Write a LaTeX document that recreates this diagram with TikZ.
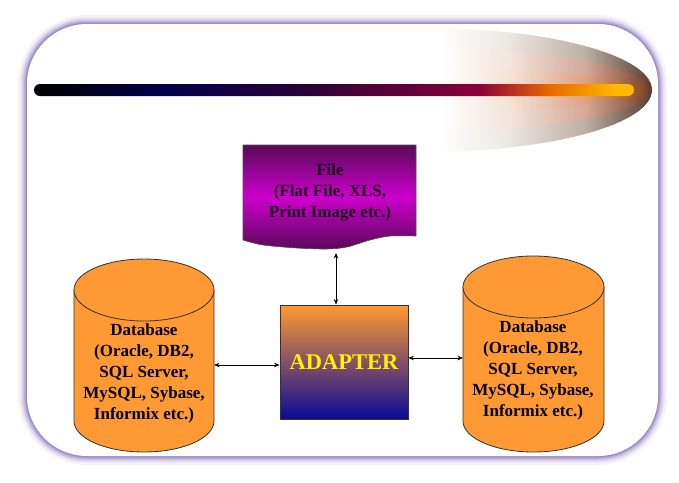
\documentclass[tikz,border=0pt]{standalone}
\usepackage{fontspec}
\setmainfont{Liberation Serif}
\usetikzlibrary{arrows.meta}
\definecolor{framecol}{HTML}{9A86C4}
\definecolor{dborange}{HTML}{FF9933}
\definecolor{adtop}{HTML}{FF9933}
\definecolor{adbot}{HTML}{0A0A96}
\definecolor{filedark}{HTML}{5A0A5A}
\definecolor{filebright}{HTML}{CC00CC}
\definecolor{filetext}{HTML}{1E001E}
\definecolor{barA}{HTML}{000000}
\definecolor{barB}{HTML}{00004A}
\definecolor{barC}{HTML}{2A0038}
\definecolor{barD}{HTML}{8B0038}
\definecolor{barE}{HTML}{E86A00}
\definecolor{barF}{HTML}{FFB800}
\definecolor{cAlight}{HTML}{EEEAE6}
\definecolor{cAmid}{HTML}{BEB0A6}
\definecolor{cAend}{HTML}{5A3E2E}
\definecolor{cBlight}{HTML}{F2E4DE}
\definecolor{cBmid}{HTML}{D4A898}
\definecolor{cBend}{HTML}{7A4228}
\definecolor{cClight}{HTML}{F4E0D4}
\definecolor{cCmid}{HTML}{DDA080}
\definecolor{cCend}{HTML}{8B4A1E}
\pgfdeclarehorizontalshading{barshade}{100bp}{color(0bp)=(barA); color(25bp)=(barA); color(35.5bp)=(barB); color(47.5bp)=(barC); color(62bp)=(barD); color(68bp)=(barE); color(73.5bp)=(barF); color(100bp)=(barF)}
\pgfdeclarehorizontalshading{cometA}{100bp}{color(0bp)=(white); color(27bp)=(white); color(42bp)=(cAlight); color(60bp)=(cAmid); color(75bp)=(cAend); color(100bp)=(cAend)}
\pgfdeclarehorizontalshading{cometB}{100bp}{color(0bp)=(white); color(28bp)=(white); color(44bp)=(cBlight); color(61bp)=(cBmid); color(75bp)=(cBend); color(100bp)=(cBend)}
\pgfdeclarehorizontalshading{cometC}{100bp}{color(0bp)=(white); color(29bp)=(white); color(45bp)=(cClight); color(62bp)=(cCmid); color(75bp)=(cCend); color(100bp)=(cCend)}
\begin{document}
\begin{tikzpicture}[x=1pt,y=-1pt,
  arr/.style={{Stealth[length=5.5pt,width=4.5pt]}-{Stealth[length=5.5pt,width=4.5pt]}, line width=0.8pt, black},
  dbtext/.style={font=\fontsize{17}{21}\selectfont\bfseries, align=center, text=black, inner sep=0pt},
  cyl/.style={fill=dborange, draw=black!80, line width=0.8pt},
  adapterbox/.style={minimum width=128pt, minimum height=114pt, inner sep=0pt,
     top color=adtop, bottom color=adbot, draw=black!80, line width=0.8pt,
     text=yellow, font=\fontsize{22.5}{27}\selectfont\bfseries},
  filetextstyle/.style={font=\fontsize{17}{21}\selectfont\bfseries, align=center, text=filetext, inner sep=0pt},
]
\useasboundingbox (0,0) rectangle (679,482);
% frame with outer glow
\foreach \w/\o in {18/0.10, 13/0.18, 9/0.3, 5.5/0.5, 2.5/0.9}
  \draw[framecol, line width=\w pt, opacity=\o, rounded corners=60] (27,24) rectangle (658,456);
\fill[white, rounded corners=60] (27,24) rectangle (658,456);
% comet
\shade[shading=cometA] (425,152) arc[start angle=90, end angle=-90, x radius=227, y radius=62] -- cycle;
\shade[shading=cometB] (425,132) arc[start angle=90, end angle=-90, x radius=223, y radius=42] -- cycle;
\shade[shading=cometC] (425,112) arc[start angle=90, end angle=-90, x radius=219, y radius=22] -- cycle;
% bar
\shade[shading=barshade, rounded corners=6] (34,84) rectangle (634,96);
% file shape
\shade[top color=filedark, bottom color=filedark, middle color=filebright, draw=black!70, line width=0.6pt]
  (243,145) -- (416,145) -- plot[smooth] coordinates {(416,236) (390,236) (370,240) (347,247) (327,249) (297,248) (263,245) (243,240)} -- cycle;
\node[filetextstyle] (file) at (330,192) {File\\(Flat File, XLS,\\Print Image etc.)};
\coordinate (fileport) at (336,253);
% adapter
\node[adapterbox] (adapter) at (344,362) {ADAPTER};
% left database
\path[cyl] (74,290) -- (74,421) arc[start angle=180, end angle=0, x radius=70, y radius=31] -- (214,290) -- cycle;
\path[cyl] (144,290) ellipse[x radius=70, y radius=31];
\node[dbtext] (dbL) at (144,373.5) {Database\\(Oracle, DB2,\\SQL Server,\\MySQL, Sybase,\\Informix etc.)};
\coordinate (pL) at (214,365);
% right database
\path[cyl] (463,287) -- (463,421) arc[start angle=180, end angle=0, x radius=70.5, y radius=31] -- (604,287) -- cycle;
\path[cyl] (533.5,287) ellipse[x radius=70.5, y radius=31];
\node[dbtext] (dbR) at (533,370) {Database\\(Oracle, DB2,\\SQL Server,\\MySQL, Sybase,\\Informix etc.)};
\coordinate (pR) at (463,358);
% connectors
\draw[arr] (fileport) -- (fileport |- adapter.north);
\draw[arr] (pL) -- (adapter.west |- pL);
\draw[arr] (adapter.east |- pR) -- (pR);
\end{tikzpicture}
\end{document}
